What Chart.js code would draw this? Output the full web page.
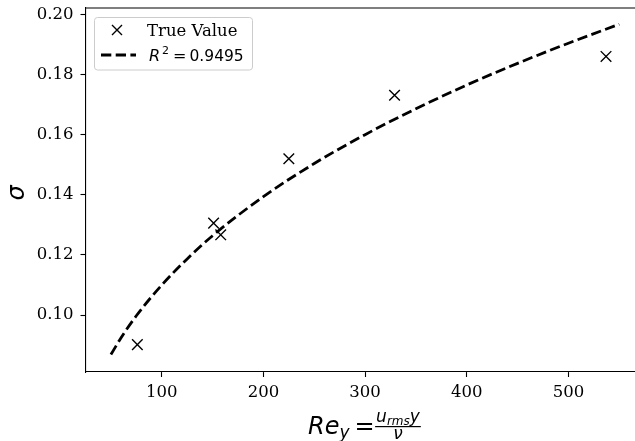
<!DOCTYPE html>
<html>
<head>
<meta charset="utf-8">
<script src="https://cdn.jsdelivr.net/npm/chart.js@4/dist/chart.umd.min.js"></script>
<style>
html,body{margin:0;padding:0;background:#fff;overflow:hidden;}
canvas{display:block;}
</style>
</head>
<body>
<canvas id="c" width="635" height="441"></canvas>
<script>
// Measured data
const trueX = [76, 151, 158, 225, 329, 537];
const trueY = [0.0902, 0.1306, 0.1267, 0.1520, 0.1731, 0.1860];
// Fitted curve
const fitX = [50, 60, 75, 100, 125, 150, 200, 250, 300, 350, 400, 450, 500, 550];
const fitY = [0.0869, 0.0925, 0.0998, 0.1100, 0.1187, 0.1264, 0.1394, 0.1504, 0.1600, 0.1686, 0.1765, 0.1837, 0.1904, 0.1967];
// Tick labels
const xTicks = [100, 200, 300, 400, 500];
const yTicks = [0.10, 0.12, 0.14, 0.16, 0.18, 0.20];
const legendLabels = ['True Value', 'R² = 0.9495'];

const SERIF = '"DejaVu Serif", serif';
const SANS = '"DejaVu Sans", sans-serif';
const DASH = [10.3, 4.4];

const decorPlugin = {
  id: 'decor',
  afterDraw(chart) {
    const ctx = chart.ctx;
    const a = chart.chartArea;
    ctx.save();
    // top spine
    ctx.strokeStyle = '#000';
    ctx.lineWidth = 1.1;
    ctx.beginPath();
    ctx.moveTo(a.left - 0.5, a.top);
    ctx.lineTo(a.right + 2, a.top);
    ctx.stroke();

    // legend box
    const bx = 94.5, by = 17.5, bw = 158, bh = 52.5, r = 3;
    ctx.beginPath();
    ctx.moveTo(bx + r, by);
    ctx.arcTo(bx + bw, by, bx + bw, by + bh, r);
    ctx.arcTo(bx + bw, by + bh, bx, by + bh, r);
    ctx.arcTo(bx, by + bh, bx, by, r);
    ctx.arcTo(bx, by, bx + bw, by, r);
    ctx.closePath();
    ctx.fillStyle = 'rgba(255,255,255,0.8)';
    ctx.fill();
    ctx.strokeStyle = '#cccccc';
    ctx.lineWidth = 1;
    ctx.stroke();

    // legend row 1: marker
    ctx.strokeStyle = '#000';
    ctx.lineWidth = 1.4;
    const mx = 117, my = 30, ms = 5;
    ctx.beginPath();
    ctx.moveTo(mx - ms, my - ms); ctx.lineTo(mx + ms, my + ms);
    ctx.moveTo(mx - ms, my + ms); ctx.lineTo(mx + ms, my - ms);
    ctx.stroke();
    ctx.fillStyle = '#000';
    ctx.font = '16.5px ' + SERIF;
    ctx.textBaseline = 'alphabetic';
    ctx.textAlign = 'left';
    ctx.fillText(legendLabels[0], 147, 36);

    // legend row 2: dashed line
    ctx.lineWidth = 2.8;
    ctx.setLineDash(DASH);
    ctx.beginPath();
    ctx.moveTo(101, 55); ctx.lineTo(136, 55);
    ctx.stroke();
    ctx.setLineDash([]);
    // R^2 = 0.9495
    ctx.font = 'italic 16px ' + SANS;
    ctx.fillText('R', 149, 61);
    ctx.font = '11px ' + SANS;
    ctx.fillText('2', 162, 54);
    ctx.font = '16px ' + SANS;
    ctx.fillText('=', 173, 61);
    ctx.font = '15.5px ' + SANS;
    ctx.fillText('0.9495', 189.5, 61);

    // x axis label: Re_y = (u_rms y) / nu
    let lx = 308;
    ctx.font = 'italic 24px ' + SANS;
    ctx.fillText('Re', lx, 434);
    lx += ctx.measureText('Re').width;
    ctx.font = 'italic 17px ' + SANS;
    ctx.fillText('y', lx, 438);
    lx += ctx.measureText('y').width + 5;
    ctx.font = '24px ' + SANS;
    ctx.fillText('=', lx, 434);
    lx += ctx.measureText('=').width + 0.5;
    const fx0 = lx;
    let nx = lx + 1;
    ctx.font = 'italic 17px ' + SANS;
    ctx.fillText('u', nx, 422);
    nx += ctx.measureText('u').width;
    ctx.font = 'italic 12px ' + SANS;
    ctx.fillText('rms', nx, 424.5);
    nx += ctx.measureText('rms').width;
    ctx.font = 'italic 17px ' + SANS;
    ctx.fillText('y', nx, 422);
    nx += ctx.measureText('y').width + 1;
    ctx.fillRect(fx0, 426, nx - fx0, 1.2);
    ctx.textAlign = 'center';
    ctx.fillText('ν', (fx0 + nx) / 2, 439);

    // y axis label: sigma
    ctx.save();
    ctx.translate(18, 193);
    ctx.rotate(-Math.PI / 2);
    ctx.textAlign = 'center';
    ctx.textBaseline = 'middle';
    ctx.font = 'italic 24px ' + SANS;
    ctx.fillText('σ', 0, 0);
    ctx.restore();

    ctx.restore();
  }
};

new Chart(document.getElementById('c'), {
  type: 'scatter',
  data: {
    datasets: [
      {
        label: legendLabels[0],
        data: trueX.map((v, i) => ({x: v, y: trueY[i]})),
        pointStyle: 'crossRot',
        pointRadius: 7.5,
        pointHoverRadius: 7.5,
        borderColor: '#000',
        backgroundColor: '#000',
        pointBorderWidth: 1.4,
        showLine: false,
        clip: false,
        order: 0
      },
      {
        label: legendLabels[1],
        data: fitX.map((v, i) => ({x: v, y: fitY[i]})),
        showLine: true,
        pointRadius: 0,
        borderColor: '#000',
        borderWidth: 2.8,
        borderDash: DASH,
        cubicInterpolationMode: 'monotone',
        fill: false,
        clip: false,
        order: 1
      }
    ]
  },
  options: {
    responsive: false,
    animation: false,
    events: [],
    layout: {autoPadding: false, padding: {top: 8, right: 0, left: 0, bottom: 0}},
    plugins: {legend: {display: false}, tooltip: {enabled: false}, title: {display: false}},
    scales: {
      x: {
        type: 'linear',
        min: 25,
        max: 565.5,
        afterBuildTicks: s => { s.ticks = xTicks.map(v => ({value: v})); },
        afterFit: s => { s.height = 69; s.paddingLeft = 0; s.paddingRight = 0; },
        ticks: {
          font: {family: SERIF, size: 16.5},
          color: '#000',
          padding: 6,
          maxRotation: 0,
          callback: v => String(v)
        },
        grid: {display: true, drawOnChartArea: false, drawTicks: true, tickLength: 5, color: '#000', tickWidth: 1.1},
        border: {display: true, color: '#000', width: 1.1}
      },
      y: {
        type: 'linear',
        min: 0.0811,
        max: 0.2021,
        afterBuildTicks: s => { s.ticks = yTicks.map(v => ({value: v})); },
        afterFit: s => { s.width = 85.5; s.paddingTop = 0; s.paddingBottom = 0; },
        ticks: {
          font: {family: SERIF, size: 16.5},
          color: '#000',
          padding: 7,
          callback: v => Number(v).toFixed(2)
        },
        grid: {display: true, drawOnChartArea: false, drawTicks: true, tickLength: 5, color: '#000', tickWidth: 1.1},
        border: {display: true, color: '#000', width: 1.1}
      }
    }
  },
  plugins: [decorPlugin]
});
</script>
</body>
</html>
